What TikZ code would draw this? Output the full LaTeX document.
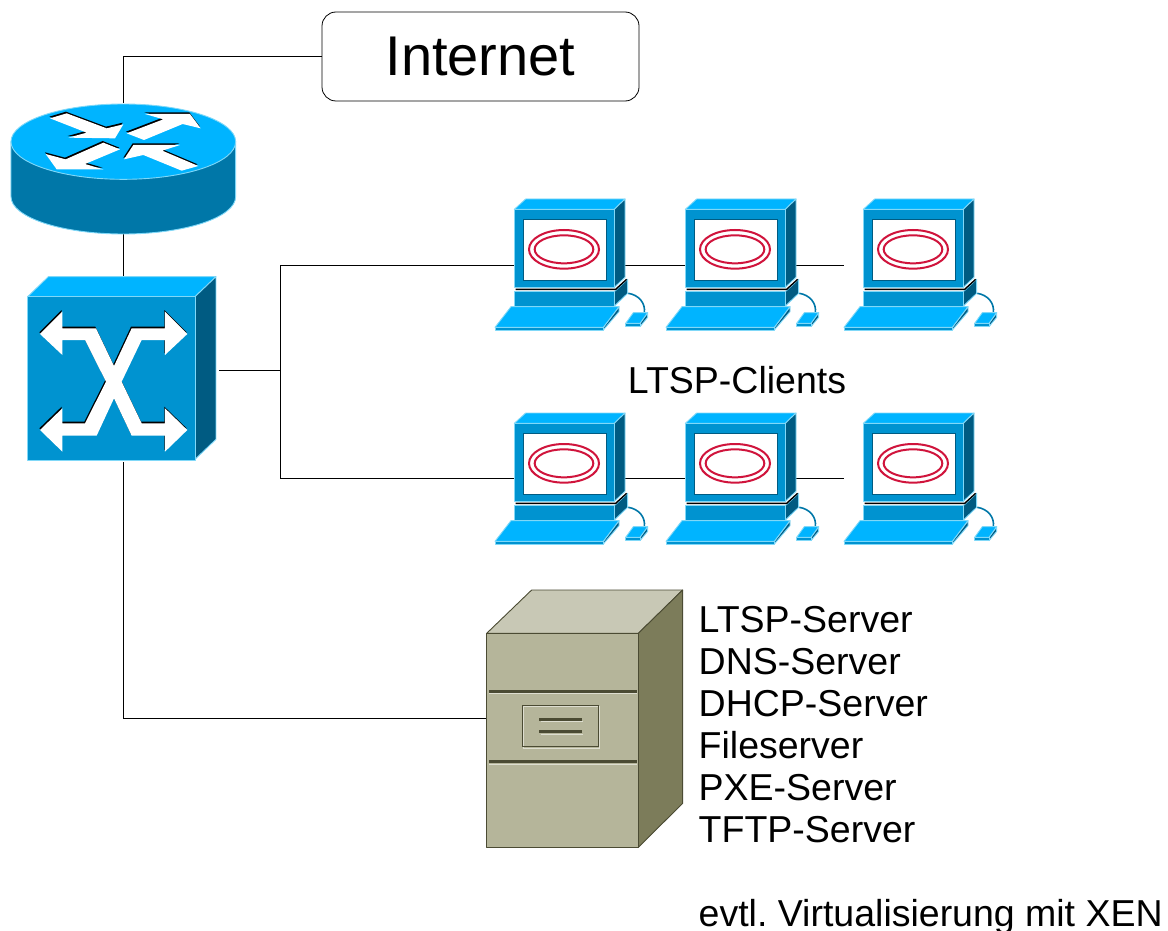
\documentclass[tikz,border=0pt]{standalone}
\usepackage{fontspec}
\setmainfont{Liberation Sans}
\definecolor{ciscoTop}{HTML}{00B4FF}
\definecolor{ciscoFront}{HTML}{0093D0}
\definecolor{ciscoSide}{HTML}{005B82}
\definecolor{ciscoBody}{HTML}{0077A8}
\definecolor{ciscoEdge}{HTML}{80D8F8}
\definecolor{srvFront}{HTML}{B5B59A}
\definecolor{srvTop}{HTML}{C8C8B5}
\definecolor{srvSide}{HTML}{7C7C5A}
\definecolor{srvDark}{HTML}{4B4B33}
\definecolor{srvLight}{HTML}{DEDED0}
\definecolor{ringRed}{HTML}{D0143C}
\tikzset{
  link/.style={draw=black,line width=0.9pt},
  zoomed/.style 2 args={xshift=(#1)*1pt,yshift=-(#2)*1pt,x=0.33333pt,y=-0.33333pt},
  facetop/.style={fill=ciscoTop,draw=ciscoEdge,line width=0.9pt,line join=round},
  facefront/.style={fill=ciscoFront,draw=ciscoEdge,line width=0.9pt,line join=round},
  faceside/.style={fill=ciscoSide,draw=ciscoEdge,line width=0.9pt,line join=round},
  srvface/.style={draw=srvDark,line width=0.9pt,line join=round},
  label/.style={font=\fontsize{37.5}{42}\selectfont\frenchspacing,anchor=north west,align=left,inner sep=0pt},
}
\newcommand{\rarrow}[1]{
  \fill[black,shift={(-2,-5)}] #1 -- cycle;
  \fill[white] #1 -- cycle;
}
% ports of a computer: #1 name, #2 dx, #3 dy
\newcommand{\ports}[3]{
  \coordinate (#1-w) at ({514+#2},{265+#3});
  \coordinate (#1-e) at ({625+#2},{265+#3});
}
% a computer: #1 dx, #2 dy
\newcommand{\compu}[2]{
  \begin{scope}[zoomed={485+#1}{190+#2}]
    \path[facetop] (88,58) -- (122,27) -- (420,27) -- (388,58) -- cycle;
    \path[faceside] (388,58) -- (420,27) -- (420,262) -- (388,292) -- cycle;
    \path[facefront] (88,58) rectangle (388,292);
    \path[fill=white,draw=ciscoSide,line width=0.9pt] (115,88) rectangle (365,270);
    \draw[ringRed,line width=2pt] (237,178) ellipse [x radius=105,y radius=58];
    \draw[ringRed,line width=2pt] (237,178) ellipse [x radius=88,y radius=42];
    \path[faceside] (388,305) -- (428,268) -- (428,310) -- (388,348) -- cycle;
    \path[facefront] (88,305) rectangle (388,348);
    \draw[black,line width=1.4pt] (92,298) -- (392,298) -- (425,268);
    \draw[ciscoBody,line width=1.6pt] (430,310) .. controls (462,315) and (482,340) .. (478,368);
    \path[faceside] (355,412) -- (402,350) -- (402,365) -- (355,420) -- cycle;
    \path[facefront] (30,412) rectangle (355,420);
    \path[facetop] (30,412) -- (78,350) -- (402,350) -- (355,412) -- cycle;
    \path[faceside] (465,400) -- (488,368) -- (488,382) -- (465,410) -- cycle;
    \path[facefront] (422,400) rectangle (465,410);
    \path[facetop] (422,400) -- (445,368) -- (488,368) -- (465,400) -- cycle;
  \end{scope}
}
\begin{document}
\begin{tikzpicture}[x=1pt,y=-1pt]
\useasboundingbox (0,0) rectangle (1168,931);

% anchors on the icons
\coordinate (router-n) at (123.5,103);
\coordinate (router-s) at (123.5,233);
\coordinate (switch-n) at (123.5,278);
\coordinate (switch-e) at (219,370);
\coordinate (switch-s) at (123.5,462);
\coordinate (bus-top) at (280,265);
\coordinate (bus-mid) at (280,370);
\coordinate (bus-bot) at (280,478);
\coordinate (server-w) at (487,718);
\coordinate (stub-a) at (844,265);
\coordinate (stub-b) at (844,478);
\ports{ca}{0}{0}
\ports{cb}{171}{0}
\ports{cd}{0}{213}
\ports{ce}{171}{213}

\node[draw=black,line width=0.8pt,rounded corners=14pt,minimum width=317pt,minimum height=89pt,inner sep=0pt,
      font=\fontsize{56}{60}\selectfont] (inet) at (480.5,56.5) {\raisebox{-3pt}{Internet}};

% connectors
\draw[link] (inet.west) -| (router-n);
\draw[link] (router-s) -- (switch-n);
\draw[link] (switch-e) -- (bus-mid);
\draw[link] (bus-top) -- (bus-bot);
\draw[link] (switch-s) |- (server-w);
\draw[link] (bus-top) -- (ca-w);
\draw[link] (bus-bot) -- (cd-w);
\draw[link] (ca-e) -- (cb-w);
\draw[link] (cd-e) -- (ce-w);
\draw[link] (cb-e) -- (stub-a);
\draw[link] (ce-e) -- (stub-b);

\compu{0}{0}
\compu{171}{0}
\compu{349}{0}
\compu{0}{214}
\compu{171}{214}
\compu{349}{214}

% router
\begin{scope}[zoomed={0}{90}]
  \path[fill=ciscoBody,draw=ciscoEdge,line width=0.9pt]
    (33,155) -- (33,320) arc[start angle=180,end angle=0,x radius=337,y radius=112] -- (707,155) -- cycle;
  \path[fill=ciscoTop,draw=ciscoEdge,line width=0.9pt] (370,155) ellipse [x radius=337,y radius=113];
  \rarrow{(150,85) -- (200,70) -- (320,115) -- (370,103) -- (345,145) -- (205,143) -- (260,128)}
  \rarrow{(380,130) -- (490,88) -- (435,72) -- (570,72) -- (602,115) -- (548,102) -- (432,150)}
  \rarrow{(360,178) -- (255,222) -- (310,238) -- (170,238) -- (137,192) -- (197,208) -- (310,158)}
  \rarrow{(372,208) -- (400,165) -- (540,165) -- (487,182) -- (595,228) -- (545,242) -- (430,195)}
\end{scope}

% switch
\begin{scope}[zoomed={0}{260}]
  \path[facetop] (83,110) -- (145,50) -- (648,50) -- (585,110) -- cycle;
  \path[faceside] (585,110) -- (648,50) -- (648,538) -- (585,598) -- cycle;
  \path[facefront] (83,110) rectangle (585,600);
  \rarrow{(120,222) -- (187,155) -- (187,205) -- (288,205) -- (342,318) -- (395,205) -- (495,205) -- (495,155) -- (562,222) -- (495,285) -- (495,240) -- (425,240) -- (365,365) -- (425,490) -- (495,490) -- (495,445) -- (562,510) -- (495,575) -- (495,527) -- (395,527) -- (342,415) -- (290,527) -- (187,527) -- (187,575) -- (120,510) -- (187,445) -- (187,490) -- (255,490) -- (318,365) -- (255,240) -- (187,240) -- (187,285)}
\end{scope}

% server
\begin{scope}[zoomed={470}{580}]
  \path[srvface,fill=srvTop] (50,160) -- (185,30) -- (638,30) -- (505,160) -- cycle;
  \path[srvface,fill=srvSide] (505,160) -- (638,30) -- (638,670) -- (505,802) -- cycle;
  \path[srvface,fill=srvFront] (50,160) rectangle (505,802);
  \draw[srvLight,line width=1pt] (58,341) -- (500,341);
  \draw[srvDark,line width=3pt] (58,334) -- (500,334);
  \draw[srvLight,line width=1pt] (58,552) -- (500,552);
  \draw[srvDark,line width=3pt] (58,545) -- (500,545);
  \draw[srvLight,line width=1pt] (159,380) rectangle (388,504);
  \draw[srvDark,line width=0.8pt] (156,377) rectangle (385,500);
  \draw[srvLight,line width=1pt] (212,424) -- (340,424);
  \draw[srvDark,line width=3pt] (208,417) -- (336,417);
  \draw[srvLight,line width=1pt] (212,463) -- (340,463);
  \draw[srvDark,line width=3pt] (208,455) -- (336,455);
\end{scope}

\node[font=\fontsize{37.5}{42}\selectfont,inner sep=0pt] (clients) at (737,380) {LTSP-Clients};
\node[label] (services) at (698.5,606) {LTSP-Server\\DNS-Server\\DHCP-Server\\Fileserver\\PXE-Server\\TFTP-Server\\ \\evtl. Virtualisierung mit XEN};
\end{tikzpicture}
\end{document}
